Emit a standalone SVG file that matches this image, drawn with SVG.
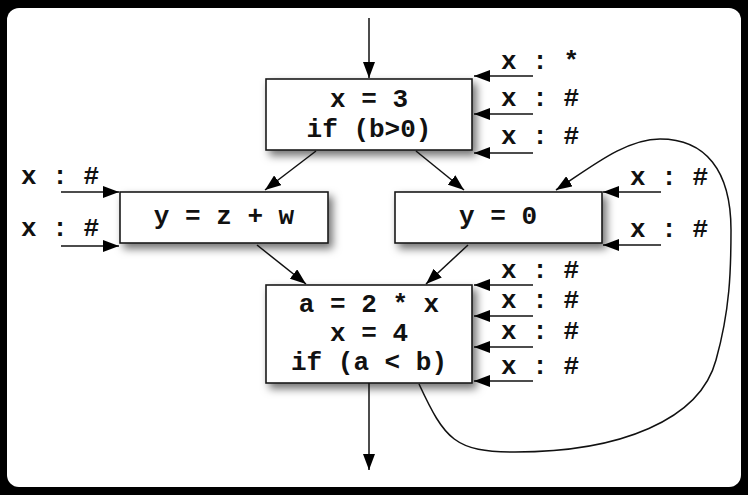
<svg xmlns="http://www.w3.org/2000/svg" width="748" height="495" viewBox="0 0 748 495">
<style>
.box{fill:#fff;stroke:#1a1a1a;stroke-width:1.6;filter:url(#sh)}
.t{font-family:"Liberation Mono","Courier New",monospace;font-weight:bold;font-size:26px;fill:#111}
.m{text-anchor:middle}
.e{fill:none;stroke:#111;stroke-width:1.5}
.a{marker-end:url(#ah)}
</style>
<defs>
<filter id="sh" x="-20%" y="-30%" width="150%" height="170%">
<feDropShadow dx="4" dy="5" stdDeviation="4" flood-color="#000" flood-opacity="0.55"/>
</filter>
<marker id="ah" markerUnits="userSpaceOnUse" markerWidth="16" markerHeight="12" refX="16" refY="6" orient="auto">
<path d="M0,0 L16,6 L0,12 z" fill="#000"/>
</marker>
</defs>
<rect x="0" y="0" width="748" height="495" fill="#000"/>
<rect x="7" y="8" width="734" height="479" rx="12" fill="#fff"/>

<g id="n1">
<rect class="box" x="266" y="79" width="206" height="71"/>
<text class="t m" x="369" y="107">x = 3</text>
<text class="t m" x="369" y="137">if (b&gt;0)</text>
</g>
<g id="n2">
<rect class="box" x="120" y="192" width="208" height="51"/>
<text class="t m" x="224" y="224">y = z + w</text>
</g>
<g id="n3">
<rect class="box" x="395" y="192" width="207" height="51"/>
<text class="t m" x="498" y="224">y = 0</text>
</g>
<g id="n4">
<rect class="box" x="266" y="285" width="206" height="98"/>
<text class="t m" x="369" y="312">a = 2 * x</text>
<text class="t m" x="369" y="341">x = 4</text>
<text class="t m" x="369" y="370">if (a &lt; b)</text>
</g>

<g id="labels">
<text class="t" x="501" y="69">x : *</text>
<text class="t" x="501" y="106">x : #</text>
<text class="t" x="501" y="144">x : #</text>
<text class="t" x="21" y="184">x : #</text>
<text class="t" x="21" y="236">x : #</text>
<text class="t" x="630" y="185">x : #</text>
<text class="t" x="630" y="237">x : #</text>
<text class="t" x="501" y="278">x : #</text>
<text class="t" x="501" y="308">x : #</text>
<text class="t" x="501" y="339">x : #</text>
<text class="t" x="501" y="374">x : #</text>
</g>

<g id="connectors">
<line class="e a" x1="369" y1="18" x2="369" y2="78"/>
<line class="e a" x1="316" y1="151" x2="265" y2="190"/>
<line class="e a" x1="416" y1="151" x2="464" y2="190"/>
<line class="e a" x1="257" y1="245" x2="306" y2="284"/>
<line class="e a" x1="468" y1="245" x2="426" y2="284"/>
<line class="e a" x1="369" y1="383" x2="369" y2="470"/>
<path class="e a" d="M419,384 C445,440 455,452 515,452 C620,452 700,420 716,360 C730,310 731,270 731,230 C731,170 705,139 660,139 C625,139 590,168 556,190"/>
<line class="e a" x1="533" y1="76" x2="474" y2="76"/>
<line class="e a" x1="533" y1="114" x2="474" y2="114"/>
<line class="e a" x1="533" y1="153" x2="474" y2="153"/>
<line class="e a" x1="61" y1="192" x2="119" y2="192"/>
<line class="e a" x1="61" y1="246" x2="119" y2="246"/>
<line class="e a" x1="661" y1="192" x2="603" y2="192"/>
<line class="e a" x1="661" y1="245" x2="603" y2="245"/>
<line class="e a" x1="533" y1="285" x2="474" y2="285"/>
<line class="e a" x1="533" y1="316" x2="474" y2="316"/>
<line class="e a" x1="533" y1="347" x2="474" y2="347"/>
<line class="e a" x1="533" y1="381" x2="474" y2="381"/>
</g>
</svg>
